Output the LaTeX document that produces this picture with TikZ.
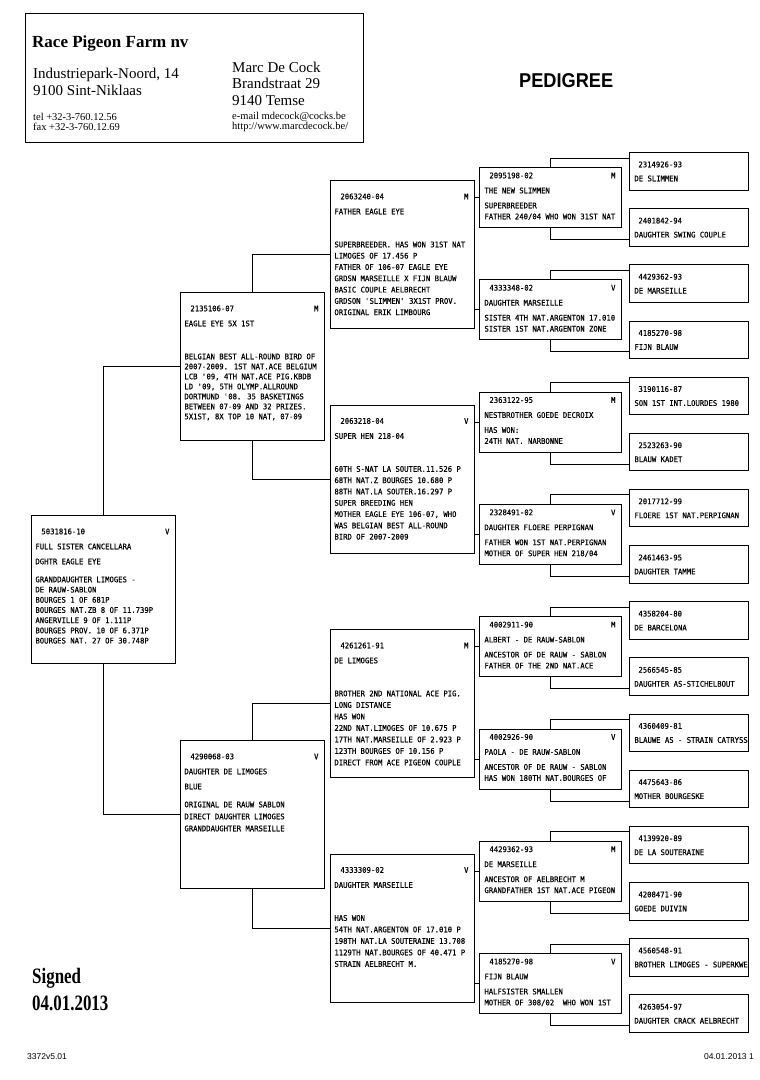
\documentclass[tikz,border=0pt]{standalone}
\usepackage{fontspec}
\usepackage{graphicx}
\setmainfont{Liberation Serif}
\newfontfamily\headsans{Liberation Sans}
\newfontfamily\boxfont[FakeStretch=0.94,FakeBold=0.4]{DejaVu Sans Mono}
\usepackage{tikz}

% box contents: id, sex, name, extra line, block
\newcommand{\bigtext}[6][10.5pt]{%
  \parbox[t][148pt][t]{144pt}{\raggedright\leftskip=4pt\parskip=0pt\baselineskip=#1\relax
    \rule{0pt}{18.8pt}\hspace*{6pt}#2\hfill#3\kern6pt\par
    \vspace{\dimexpr15pt-#1\relax}#4\par
    \vspace{\dimexpr15pt-#1\relax}\mbox{}#5\par
    \vspace{\dimexpr18pt-#1\relax}#6\par}}
\newcommand{\midtext}[5]{%
  \parbox[t][60pt][t]{142pt}{\raggedright\leftskip=5pt\parskip=0pt\baselineskip=11pt\relax
    \rule{0pt}{10.8pt}\hspace*{5pt}#1\hfill#2\kern6pt\par
    \vspace{4pt}#3\par
    \vspace{4pt}#4\\#5\par}}
\newcommand{\smalltext}[2]{%
  \parbox[t][37.5pt][t]{119pt}{\leftskip=5pt\parskip=0pt\baselineskip=14pt\relax
    \rule{0pt}{14.8pt}\hspace*{4pt}#1\par\mbox{#2}\par}}

\tikzset{
    birdbox/.style={draw, line width=0.9pt, anchor=north west, inner sep=0pt,
        font=\boxfont\fontsize{7.7pt}{10.5pt}\selectfont},
    link/.style={line width=0.9pt},
    addr/.style={anchor=base west, inner sep=0pt, font=\fontsize{15pt}{17pt}\selectfont},
    contact/.style={anchor=base west, inner sep=0pt, font=\fontsize{10.5pt}{12pt}\selectfont}
    }

\begin{document}
\begin{tikzpicture}[x=1pt,y=-1pt]
    \useasboundingbox (0,0) rectangle (760,1080);
    \fill[white] (0,0) rectangle (760,1080);

    % letterhead
    \node[draw, line width=1pt, anchor=north west, minimum width=338pt, minimum height=129pt, inner sep=0pt] (head) at (25,13) {};
    \node[addr, font=\bfseries\fontsize{17pt}{20pt}\selectfont] (farm) at (32,47) {Race Pigeon Farm nv};
    \node[addr] (street) at (33,78) {Industriepark-Noord, 14};
    \node[addr] (town) at (33,95) {9100 Sint-Niklaas};
    \node[contact] (tel) at (33,120.5) {tel +32-3-760.12.56};
    \node[contact] (fax) at (33,130.5) {fax +32-3-760.12.69};
    \node[addr] (owner) at (232,72) {Marc De Cock};
    \node[addr] (street2) at (232,88.5) {Brandstraat 29};
    \node[addr] (town2) at (232,105) {9140 Temse};
    \node[contact] (mail) at (232,119.5) {e-mail mdecock@cocks.be};
    \node[contact] (web) at (232,129.5) {http://www.marcdecock.be/};
    \node[anchor=base west, inner sep=0pt, font=\headsans\bfseries\fontsize{20pt}{22pt}\selectfont] (title) at (519,87) {\scalebox{0.91}[1]{PEDIGREE}};

    % generation 1 and 2
    \node[birdbox] (P) at (31,515) {\bigtext[10.2pt]{5031816-10}{V}{FULL SISTER CANCELLARA}{DGHTR EAGLE EYE}{GRANDDAUGHTER LIMOGES -\\DE RAUW-SABLON\\BOURGES 1 OF 681P\\BOURGES NAT.ZB 8 OF 11.739P\\ANGERVILLE 9 OF 1.111P\\BOURGES PROV. 10 OF 6.371P\\BOURGES NAT. 27 OF 30.748P}};
    \node[birdbox] (S) at (180,292) {\bigtext[10pt]{2135106-07}{M}{EAGLE EYE 5X 1ST}{}{BELGIAN BEST ALL-ROUND BIRD OF\\2007-2009. 1ST NAT.ACE BELGIUM\\LCB \textquotesingle 09, 4TH NAT.ACE PIG.KBDB\\LD \textquotesingle 09, 5TH OLYMP.ALLROUND\\DORTMUND \textquotesingle 08. 35 BASKETINGS\\BETWEEN 07-09 AND 32 PRIZES.\\5X1ST, 8X TOP 10 NAT, 07-09}};
    \node[birdbox] (D) at (180,740) {\bigtext[12pt]{4290068-03}{V}{DAUGHTER DE LIMOGES}{BLUE}{ORIGINAL DE RAUW SABLON\\DIRECT DAUGHTER LIMOGES\\GRANDDAUGHTER MARSEILLE}};

    % generation 3
    \node[birdbox] (SS) at (330,180) {\bigtext[11.3pt]{2063240-04}{M}{FATHER EAGLE EYE}{}{SUPERBREEDER. HAS WON 31ST NAT\\LIMOGES OF 17.456 P\\FATHER OF 106-07 EAGLE EYE\\GRDSN MARSEILLE X FIJN BLAUW\\BASIC COUPLE AELBRECHT\\GRDSON \textquotesingle SLIMMEN\textquotesingle{} 3X1ST PROV.\\ORIGINAL ERIK LIMBOURG}};
    \node[birdbox] (SD) at (330,404.5) {\bigtext[11.3pt]{2063218-04}{V}{SUPER HEN 218-04}{}{60TH S-NAT LA SOUTER.11.526 P\\68TH NAT.Z BOURGES 10.680 P\\88TH NAT.LA SOUTER.16.297 P\\SUPER BREEDING HEN\\MOTHER EAGLE EYE 106-07, WHO\\WAS BELGIAN BEST ALL-ROUND\\BIRD OF 2007-2009}};
    \node[birdbox] (DS) at (330,629) {\bigtext[11.5pt]{4261261-91}{M}{DE LIMOGES}{}{BROTHER 2ND NATIONAL ACE PIG.\\LONG DISTANCE\\HAS WON\\22ND NAT.LIMOGES OF 10.675 P\\17TH NAT.MARSEILLE OF 2.923 P\\123TH BOURGES OF 10.156 P\\DIRECT FROM ACE PIGEON COUPLE}};
    \node[birdbox] (DD) at (330,853.5) {\bigtext[11.5pt]{4333309-02}{V}{DAUGHTER MARSEILLE}{}{HAS WON\\54TH NAT.ARGENTON OF 17.010 P\\198TH NAT.LA SOUTERAINE 13.708\\1129TH NAT.BOURGES OF 40.471 P\\STRAIN AELBRECHT M.}};

    % generation 4
    \node[birdbox] (SSS) at (479,167) {\midtext{2095198-02}{M}{THE NEW SLIMMEN}{SUPERBREEDER}{FATHER 240/04 WHO WON 31ST NAT}};
    \node[birdbox] (SSD) at (479,279.3) {\midtext{4333348-02}{V}{DAUGHTER MARSEILLE}{SISTER 4TH NAT.ARGENTON 17.010}{SISTER 1ST NAT.ARGENTON ZONE}};
    \node[birdbox] (SDS) at (479,391.6) {\midtext{2363122-95}{M}{NESTBROTHER GOEDE DECROIX}{HAS WON:}{24TH NAT. NARBONNE}};
    \node[birdbox] (SDD) at (479,503.9) {\midtext{2328491-02}{V}{DAUGHTER FLOERE PERPIGNAN}{FATHER WON 1ST NAT.PERPIGNAN}{MOTHER OF SUPER HEN 218/04}};
    \node[birdbox] (DSS) at (479,616.2) {\midtext{4002911-90}{M}{ALBERT - DE RAUW-SABLON}{ANCESTOR OF DE RAUW - SABLON}{FATHER OF THE 2ND NAT.ACE}};
    \node[birdbox] (DSD) at (479,728.5) {\midtext{4002926-90}{V}{PAOLA - DE RAUW-SABLON}{ANCESTOR OF DE RAUW - SABLON}{HAS WON 180TH NAT.BOURGES OF}};
    \node[birdbox] (DDS) at (479,840.8) {\midtext{4429362-93}{M}{DE MARSEILLE}{ANCESTOR OF AELBRECHT M}{GRANDFATHER 1ST NAT.ACE PIGEON}};
    \node[birdbox] (DDD) at (479,953.1) {\midtext{4185270-98}{V}{FIJN BLAUW}{HALFSISTER SMALLEN}{MOTHER OF 308/02~~WHO WON 1ST}};

    % generation 5
    \node[birdbox] (SSSS) at (629,152) {\smalltext{2314926-93}{DE SLIMMEN}};
    \node[birdbox] (SSSD) at (629,208.2) {\smalltext{2401842-94}{DAUGHTER SWING COUPLE}};
    \node[birdbox] (SSDS) at (629,264.3) {\smalltext{4429362-93}{DE MARSEILLE}};
    \node[birdbox] (SSDD) at (629,320.5) {\smalltext{4185270-98}{FIJN BLAUW}};
    \node[birdbox] (SDSS) at (629,376.6) {\smalltext{3190116-87}{SON 1ST INT.LOURDES 1980}};
    \node[birdbox] (SDSD) at (629,432.8) {\smalltext{2523263-90}{BLAUW KADET}};
    \node[birdbox] (SDDS) at (629,488.9) {\smalltext{2017712-99}{FLOERE 1ST NAT.PERPIGNAN}};
    \node[birdbox] (SDDD) at (629,545.1) {\smalltext{2461463-95}{DAUGHTER TAMME}};
    \node[birdbox] (DSSS) at (629,601.2) {\smalltext{4358204-80}{DE BARCELONA}};
    \node[birdbox] (DSSD) at (629,657.4) {\smalltext{2566545-85}{DAUGHTER AS-STICHELBOUT}};
    \node[birdbox] (DSDS) at (629,713.5) {\smalltext{4360409-81}{BLAUWE AS - STRAIN CATRYSS}};
    \node[birdbox] (DSDD) at (629,769.7) {\smalltext{4475643-86}{MOTHER BOURGESKE}};
    \node[birdbox] (DDSS) at (629,825.8) {\smalltext{4139920-89}{DE LA SOUTERAINE}};
    \node[birdbox] (DDSD) at (629,882) {\smalltext{4208471-90}{GOEDE DUIVIN}};
    \node[birdbox] (DDDS) at (629,938.1) {\smalltext{4560548-91}{BROTHER LIMOGES - SUPERKWE}};
    \node[birdbox] (DDDD) at (629,994.3) {\smalltext{4263054-97}{DAUGHTER CRACK AELBRECHT}};

    % parent lines
    \draw[link] (P.north) |- (S.west);
    \draw[link] (P.south) |- (D.west);
    \draw[link] (S.north) |- (SS.west);
    \draw[link] (S.south) |- (SD.west);
    \draw[link] (D.north) |- (DS.west);
    \draw[link] (D.south) |- (DD.west);
    \draw[link] (SS.east |- SSS.west) -- (SSS.west);
    \draw[link] (SS.east |- SSD.west) -- (SSD.west);
    \draw[link] (SD.east |- SDS.west) -- (SDS.west);
    \draw[link] (SD.east |- SDD.west) -- (SDD.west);
    \draw[link] (DS.east |- DSS.west) -- (DSS.west);
    \draw[link] (DS.east |- DSD.west) -- (DSD.west);
    \draw[link] (DD.east |- DDS.west) -- (DDS.west);
    \draw[link] (DD.east |- DDD.west) -- (DDD.west);
    \draw[link] (SSS.north) |- ([yshift=-6pt]SSSS.north west);
    \draw[link] (SSS.south) |- ([yshift=7pt]SSSD.south west);
    \draw[link] (SSD.north) |- ([yshift=-6pt]SSDS.north west);
    \draw[link] (SSD.south) |- ([yshift=7pt]SSDD.south west);
    \draw[link] (SDS.north) |- ([yshift=-6pt]SDSS.north west);
    \draw[link] (SDS.south) |- ([yshift=7pt]SDSD.south west);
    \draw[link] (SDD.north) |- ([yshift=-6pt]SDDS.north west);
    \draw[link] (SDD.south) |- ([yshift=7pt]SDDD.south west);
    \draw[link] (DSS.north) |- ([yshift=-6pt]DSSS.north west);
    \draw[link] (DSS.south) |- ([yshift=7pt]DSSD.south west);
    \draw[link] (DSD.north) |- ([yshift=-6pt]DSDS.north west);
    \draw[link] (DSD.south) |- ([yshift=7pt]DSDD.south west);
    \draw[link] (DDS.north) |- ([yshift=-6pt]DDSS.north west);
    \draw[link] (DDS.south) |- ([yshift=7pt]DDSD.south west);
    \draw[link] (DDD.north) |- ([yshift=-6pt]DDDS.north west);
    \draw[link] (DDD.south) |- ([yshift=7pt]DDDD.south west);

    % signature and footer
    \node[anchor=base west, inner sep=0pt, font=\bfseries\fontsize{22pt}{24pt}\selectfont] (signed) at (32,983) {\scalebox{0.77}[1]{Signed}};
    \node[anchor=base west, inner sep=0pt, font=\bfseries\fontsize{22pt}{24pt}\selectfont] (date) at (32,1010) {\scalebox{0.77}[1]{04.01.2013}};
    \node[anchor=base west, inner sep=0pt, font=\headsans\fontsize{8.5pt}{10pt}\selectfont] (code) at (27,1059) {3372v5.01};
    \node[anchor=base east, inner sep=0pt, font=\headsans\fontsize{8.5pt}{10pt}\selectfont] (page) at (754,1059) {04.01.2013 1};
\end{tikzpicture}
\end{document}
